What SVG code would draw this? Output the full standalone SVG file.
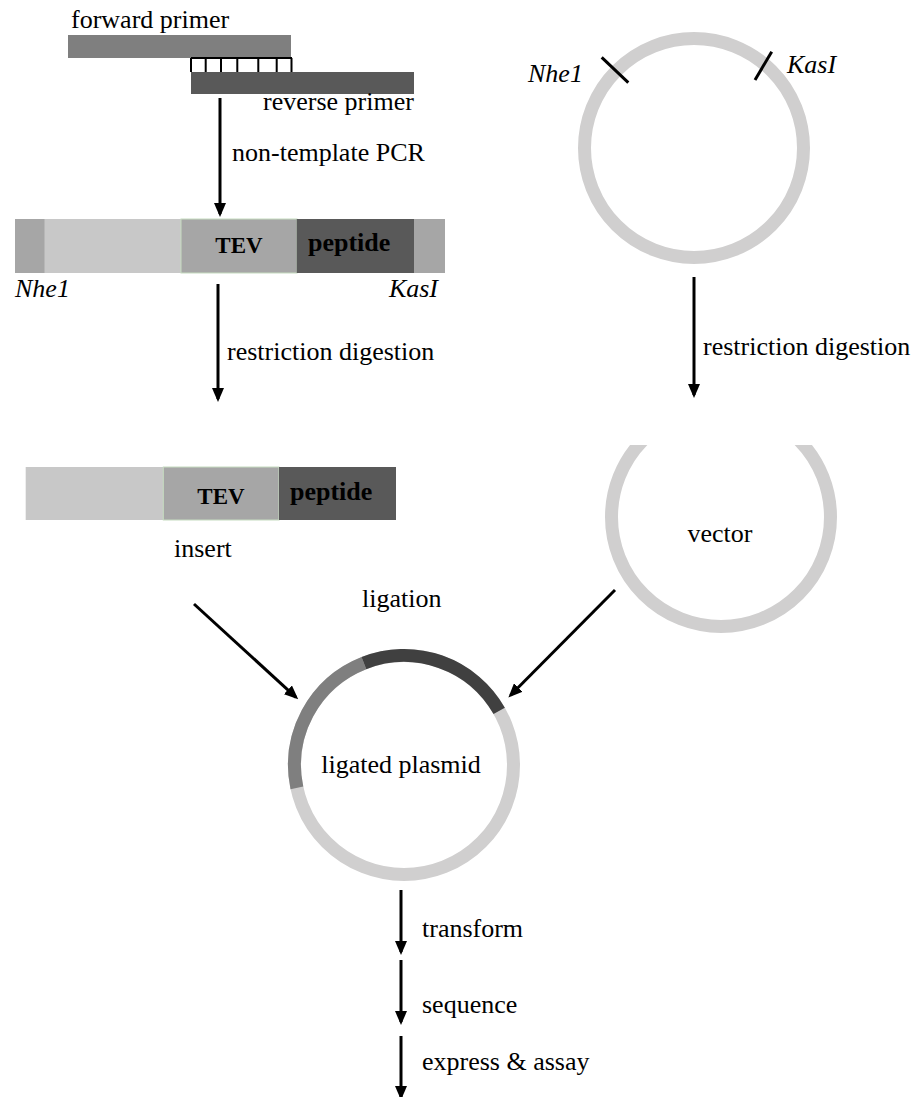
<svg xmlns="http://www.w3.org/2000/svg" width="914" height="1097" viewBox="0 0 914 1097">
<style>
text{font-family:"Liberation Serif","Times New Roman",serif;fill:#000;}
.lbl{font-size:26px;}
.it{font-size:26px;font-style:italic;}
.b{font-weight:bold;}
.arr{stroke:#000;stroke-width:3;fill:none;marker-end:url(#ah);}
.ring{fill:none;stroke:#d0cfcf;stroke-width:13;}
.tick{stroke:#000;stroke-width:3;}
</style>
<defs>
<marker id="ah" viewBox="0 0 14 12" refX="11" refY="6" markerWidth="14" markerHeight="12" markerUnits="userSpaceOnUse" orient="auto">
<path d="M0,0 L14,6 L0,12 z" fill="#000"/>
</marker>
<clipPath id="cut"><rect x="580" y="445" width="300" height="200"/></clipPath>
</defs>
<rect width="914" height="1097" fill="#fff"/>

<g id="primers">
<text class="lbl" x="71" y="28">forward primer</text>
<rect x="68" y="35" width="223" height="23" fill="#7f7f7f"/>
<path d="M191,58 H292 M191,58 V72 M205.7,58 V72 M221,58 V72 M237.3,58 V72 M258.3,58 V72 M276.7,58 V72 M291.5,58 V72" stroke="#000" stroke-width="2" fill="none"/>
<rect x="191" y="72" width="223" height="22" fill="#595959"/>
<text class="lbl" x="263" y="110">reverse primer</text>
</g>

<g id="pcr-product">
<rect x="15" y="219" width="30" height="54" fill="#a6a6a6"/>
<rect x="44.5" y="219" width="137" height="54" fill="#c8c8c8"/>
<rect x="181" y="219" width="116" height="54" fill="#a6a6a6" stroke="#c6dcc0" stroke-width="1"/>
<rect x="296.7" y="219" width="117.5" height="54" fill="#595959"/>
<rect x="414" y="219" width="31" height="54" fill="#a6a6a6"/>
<text class="b" x="239" y="253" font-size="23" text-anchor="middle">TEV</text>
<text class="b" x="308" y="251" font-size="26">peptide</text>
<text class="it" x="15" y="297">Nhe1</text>
<text class="it" x="438" y="297" text-anchor="end">KasI</text>
</g>

<g id="insert">
<rect x="25.7" y="467" width="138" height="53" fill="#c8c8c8"/>
<rect x="163.3" y="467" width="115.7" height="53" fill="#a6a6a6" stroke="#c6dcc0" stroke-width="1"/>
<rect x="279" y="467" width="117" height="53" fill="#595959"/>
<text class="b" x="221" y="504" font-size="23" text-anchor="middle">TEV</text>
<text class="b" x="290" y="500" font-size="26">peptide</text>
<text class="lbl" x="174" y="557">insert</text>
</g>

<g id="plasmid">
<circle class="ring" cx="694" cy="148" r="109.5"/>
<line class="tick" x1="601.7" y1="57.3" x2="628.3" y2="82.7"/>
<line class="tick" x1="771.7" y1="51.7" x2="755" y2="80"/>
<text class="it" x="528" y="82">Nhe1</text>
<text class="it" x="787" y="73">KasI</text>
</g>

<g id="vector">
<circle class="ring" cx="721" cy="517" r="109.5" clip-path="url(#cut)"/>
<text class="lbl" x="720" y="542" text-anchor="middle">vector</text>
</g>

<g id="ligated-plasmid">
<circle class="ring" cx="404" cy="765" r="109.5"/>
<path d="M296.9,787.8 A109.5,109.5 0 0 1 363.9,663.1" fill="none" stroke="#7f7f7f" stroke-width="13"/>
<path d="M363.9,663.1 A109.5,109.5 0 0 1 499.2,710.9" fill="none" stroke="#404040" stroke-width="13"/>
<text class="lbl" x="401" y="773" text-anchor="middle">ligated plasmid</text>
</g>

<g id="connectors">
<line class="arr" x1="220" y1="98" x2="220" y2="214"/>
<text class="lbl" x="232" y="161">non-template PCR</text>
<line class="arr" x1="218" y1="284" x2="218" y2="399"/>
<text class="lbl" x="227" y="360">restriction digestion</text>
<line class="arr" x1="694" y1="277" x2="694" y2="395"/>
<text class="lbl" x="703" y="355">restriction digestion</text>
<line class="arr" x1="194" y1="604" x2="296" y2="697.3"/>
<line class="arr" x1="615" y1="590" x2="510.5" y2="695.3"/>
<text class="lbl" x="362" y="607">ligation</text>
<line class="arr" x1="401" y1="890" x2="401" y2="952"/>
<text class="lbl" x="422" y="937">transform</text>
<line class="arr" x1="401" y1="960" x2="401" y2="1022"/>
<text class="lbl" x="422" y="1013">sequence</text>
<line class="arr" x1="401" y1="1036" x2="401" y2="1097"/>
<text class="lbl" x="422" y="1070">express &amp; assay</text>
</g>
</svg>
